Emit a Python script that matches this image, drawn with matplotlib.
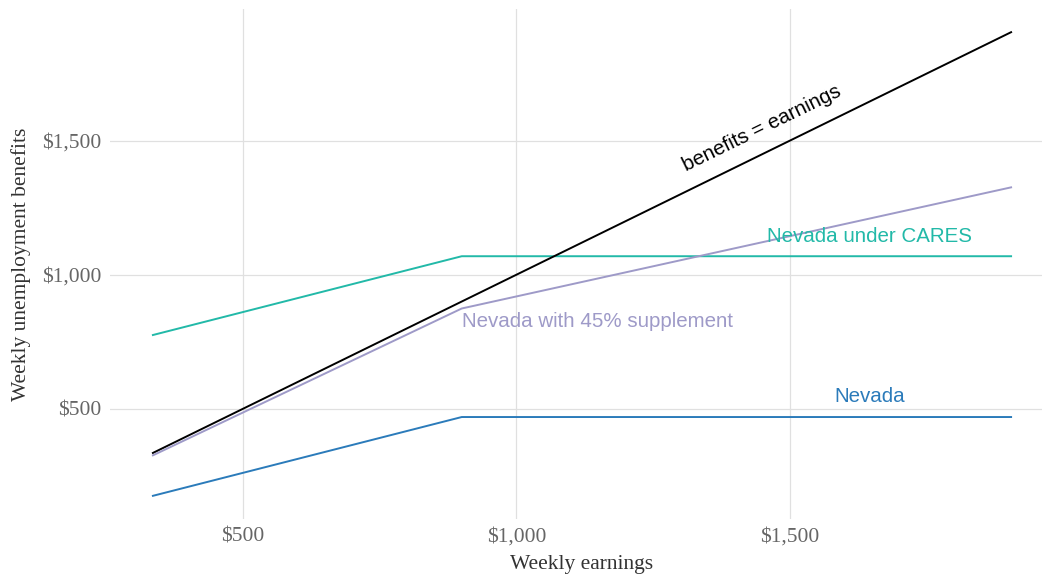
import matplotlib
matplotlib.use("Agg")
import matplotlib.pyplot as plt
from matplotlib.ticker import FuncFormatter

# weekly earnings at the start, kink and end of each schedule
earnings = [335, 900, 1905]
nevada = [175, 469, 469]
nevada_cares = [775, 1069, 1069]
nevada_45 = [326, 874, 1326]
equal_line = [335, 1905]

x_ticks = [500, 1000, 1500]
y_ticks = [500, 1000, 1500]

col_black = "#000000"
col_teal = "#22b9a8"
col_purple = "#9e9ac8"
col_blue = "#2b7bba"

fig = plt.figure(figsize=(10.42, 5.84), dpi=100)
W, H = 1042, 584
ax = fig.add_axes([110 / W, (H - 519) / H, (1054 - 110) / W, (519 - 9) / H])

ax.plot(earnings, nevada_cares, color=col_teal, lw=1.4)
ax.plot(earnings, nevada, color=col_blue, lw=1.4)
ax.plot([equal_line[0], equal_line[1]], equal_line, color=col_black, lw=1.4)
ax.plot(earnings, nevada_45, color=col_purple, lw=1.4)

sans = "Liberation Sans"
fs = 14.8
ax.text(1449, 1545, "benefits = earnings", color=col_black, fontsize=fs,
        family=sans, rotation=26, ha="center", va="center")
ax.text(1646, 1142, "Nevada under CARES", color=col_teal, fontsize=fs,
        family=sans, ha="center", va="center")
ax.text(900, 825, "Nevada with 45% supplement", color=col_purple, fontsize=fs,
        family=sans, ha="left", va="center")
ax.text(1646, 545, "Nevada", color=col_blue, fontsize=fs,
        family=sans, ha="center", va="center")

ax.set_xlim(256.5, 1983.5)
ax.set_ylim(88.5, 1991.5)
ax.set_xticks(x_ticks)
ax.set_yticks(y_ticks)
fmt = FuncFormatter(lambda v, p: "${:,.0f}".format(v))
ax.xaxis.set_major_formatter(fmt)
ax.yaxis.set_major_formatter(fmt)

ax.grid(True, color="#e0e0e0", lw=0.9)
ax.set_axisbelow(True)
for s in ax.spines.values():
    s.set_visible(False)
ax.tick_params(length=0, labelsize=15.5, labelcolor="#666666", pad=6)
for lab in ax.get_xticklabels() + ax.get_yticklabels():
    lab.set_family("Liberation Serif")

ax.set_xlabel("Weekly earnings", family="Liberation Serif", fontsize=15.5,
              color="#333333", labelpad=6)
ax.set_ylabel("Weekly unemployment benefits", family="Liberation Serif",
              fontsize=15.5, color="#333333", labelpad=8)

fig.savefig("out.png", dpi=100)
